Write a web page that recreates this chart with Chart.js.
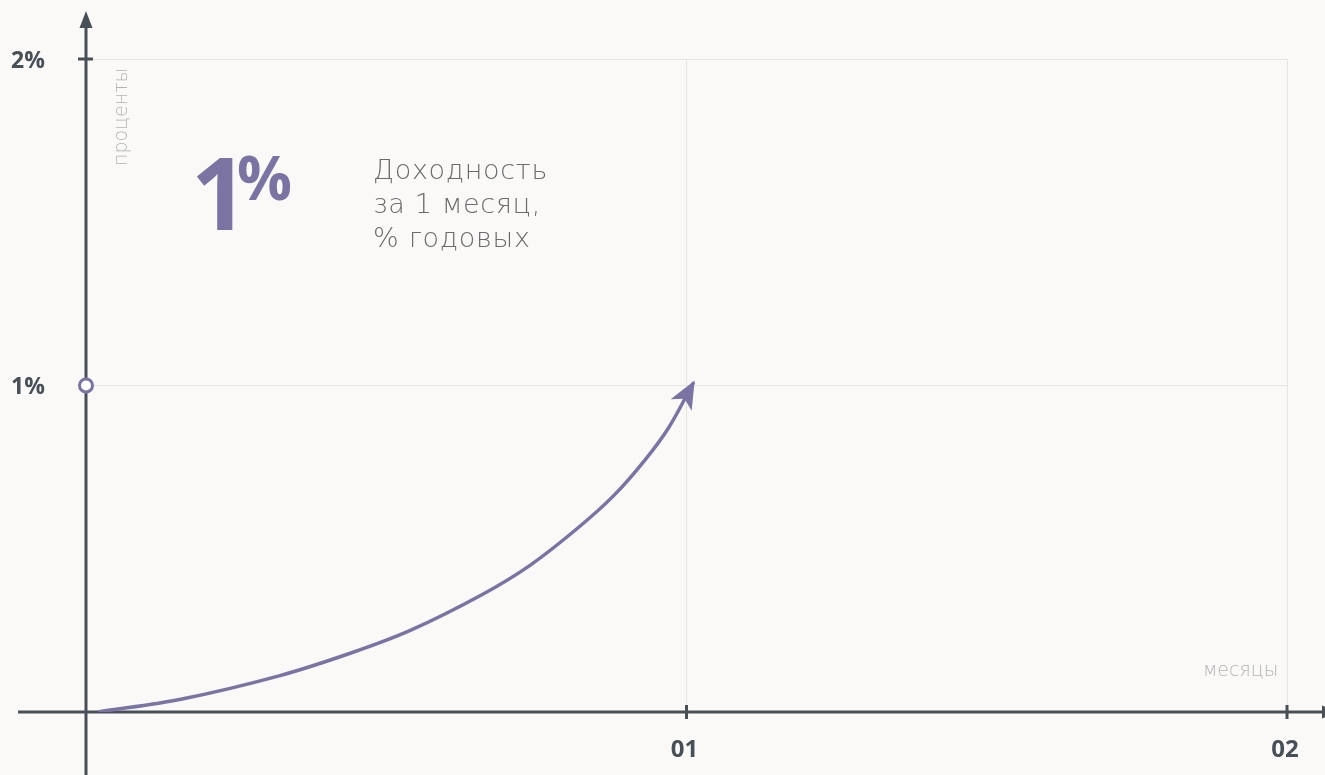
<!DOCTYPE html>
<html>
<head>
<meta charset="utf-8">
<script src="https://cdn.jsdelivr.net/npm/chart.js@4.4.1/dist/chart.umd.min.js"></script>
<style>
  body { margin: 0; background: #faf9f8; }
  .wrap { position: relative; width: 1325px; height: 775px; overflow: hidden; }
  .num, .pct { position: absolute; color: #7b74a3; font-family: "Open Sans", sans-serif; font-weight: 700; white-space: nowrap; }
  .num { left: 191px; top: 141px; font-size: 100px; line-height: 100px; }
  .pct { left: 237px; top: 146px; font-size: 61px; line-height: 62px; }
  .note { position: absolute; left: 373px; top: 153px; color: #6b6b6b; font-family: "DejaVu Sans", sans-serif; font-weight: 200; font-size: 27px; line-height: 34px; white-space: nowrap; }
</style>
</head>
<body>
<div class="wrap">
  <canvas id="chart" width="1325" height="775"></canvas>
  <div class="num">1</div>
  <div class="pct">%</div>
  <div class="note" id="note">Доходность<br>за 1 месяц,<br>% годовых</div>
</div>
<script>
// curve: x in months, y in percent
const months = [0.02, 0.16, 0.32, 0.44, 0.54, 0.66, 0.74, 0.82, 0.88, 0.93, 0.97, 1.012]
const yields = [0, 0.04, 0.11, 0.18, 0.25, 0.36, 0.45, 0.565, 0.665, 0.77, 0.87, 1.01]
const markerPoint = [{x: 0, y: 1}]
const xTicks = [1, 2]
const xTickLabels = ['01', '02']
const yTicks = [1, 2]
const yTickLabels = ['1%', '2%']

const purple = '#7a73a3'
const axisColor = '#474f57'
const thinFont = '200 19px "DejaVu Sans", sans-serif'

// stretch the light text a little so it takes the same room as in the picture
function spacingFor(ctx, text, font, width) {
  ctx.save()
  ctx.font = font
  ctx.letterSpacing = '0px'
  const w = ctx.measureText(text).width
  ctx.restore()
  return Math.max(0, (width - w) / text.length)
}

const axisDecor = {
  id: 'axisDecor',
  beforeDatasetsDraw(chart) {
    const {ctx} = chart
    const x = chart.scales.x, y = chart.scales.y
    const x0 = x.getPixelForValue(0)
    const y0 = y.getPixelForValue(0)
    ctx.save()
    ctx.strokeStyle = axisColor
    ctx.fillStyle = axisColor
    ctx.lineWidth = 3
    // y axis
    ctx.beginPath(); ctx.moveTo(x0, 24); ctx.lineTo(x0, chart.height); ctx.stroke()
    ctx.beginPath(); ctx.moveTo(x0, 11); ctx.lineTo(x0 - 6.5, 28); ctx.lineTo(x0 + 6.5, 28); ctx.closePath(); ctx.fill()
    // x axis
    ctx.beginPath(); ctx.moveTo(18, y0); ctx.lineTo(chart.width, y0); ctx.stroke()
    ctx.beginPath(); ctx.moveTo(1339, y0); ctx.lineTo(1322, y0 - 6.5); ctx.lineTo(1322, y0 + 6.5); ctx.closePath(); ctx.fill()
    // tick marks
    const ty = y.getPixelForValue(2)
    ctx.beginPath(); ctx.moveTo(x0 - 8, ty); ctx.lineTo(x0 + 7, ty); ctx.stroke()
    xTicks.forEach(v => {
      const px = x.getPixelForValue(v)
      ctx.beginPath(); ctx.moveTo(px, y0 - 7); ctx.lineTo(px, y0 + 7); ctx.stroke()
    })
    // tick labels
    ctx.font = 'bold 23px "Open Sans", sans-serif'
    ctx.textBaseline = 'middle'
    ctx.textAlign = 'left'
    yTicks.forEach((v, i) => ctx.fillText(yTickLabels[i], 11, y.getPixelForValue(v) + 2))
    ctx.font = 'bold 24px "Open Sans", sans-serif'
    ctx.textAlign = 'center'
    xTicks.forEach((v, i) => ctx.fillText(xTickLabels[i], x.getPixelForValue(v) - 2, 750))
    // axis titles
    ctx.fillStyle = '#b3b3b3'
    ctx.font = thinFont
    ctx.textBaseline = 'alphabetic'
    ctx.textAlign = 'left'
    ctx.letterSpacing = spacingFor(ctx, 'месяцы', thinFont, 73) + 'px'
    ctx.fillText('месяцы', 1203, 676)
    ctx.save()
    ctx.translate(127, 166)
    ctx.rotate(-Math.PI / 2)
    ctx.letterSpacing = spacingFor(ctx, 'проценты', thinFont, 97) + 'px'
    ctx.fillText('проценты', 0, 0)
    ctx.restore()
    ctx.restore()
  },
  afterDatasetsDraw(chart) {
    // arrow head at the end of the curve
    const pts = chart.getDatasetMeta(0).data
    const p = pts[pts.length - 1], q = pts[pts.length - 2]
    const a = Math.atan2(p.y - q.y, p.x - q.x)
    const {ctx} = chart
    ctx.save()
    ctx.translate(p.x, p.y)
    ctx.rotate(a)
    ctx.fillStyle = purple
    ctx.beginPath()
    ctx.moveTo(2, 0)
    ctx.lineTo(-26, -12)
    ctx.lineTo(-19, 0)
    ctx.lineTo(-26, 12)
    ctx.closePath()
    ctx.fill()
    ctx.restore()
  }
}

const chart = new Chart(document.getElementById('chart'), {
  type: 'scatter',
  data: {
    datasets: [
      {
        data: months.map((m, i) => ({x: m, y: yields[i]})),
        showLine: true,
        borderColor: purple,
        borderWidth: 3.5,
        borderCapStyle: 'butt',
        pointRadius: 0,
        tension: 0.35,
        fill: false
      },
      {
        data: markerPoint,
        pointRadius: 6.5,
        pointBorderWidth: 3,
        pointBorderColor: purple,
        pointBackgroundColor: '#ffffff',
        clip: false
      }
    ]
  },
  options: {
    responsive: false,
    animation: false,
    events: [],
    layout: {padding: {left: 86, top: 59, right: 38, bottom: 63}},
    plugins: {legend: {display: false}, tooltip: {enabled: false}},
    scales: {
      x: {
        type: 'linear', min: 0, max: 2,
        ticks: {display: false, stepSize: 1},
        border: {display: false},
        grid: {drawTicks: false, color: c => c.tick.value === 0 ? 'transparent' : '#e6e5e3', lineWidth: 1}
      },
      y: {
        type: 'linear', min: 0, max: 2,
        ticks: {display: false, stepSize: 1},
        border: {display: false},
        grid: {drawTicks: false, color: c => c.tick.value === 0 ? 'transparent' : '#e6e5e3', lineWidth: 1}
      }
    }
  },
  plugins: [axisDecor]
})

// note text: same width as "Доходность" in the picture (about 175px)
const note = document.getElementById('note')
const nf = '200 27px "DejaVu Sans", sans-serif'
note.style.letterSpacing = spacingFor(chart.ctx, 'Доходность', nf, 175) + 'px'
</script>
</body>
</html>
